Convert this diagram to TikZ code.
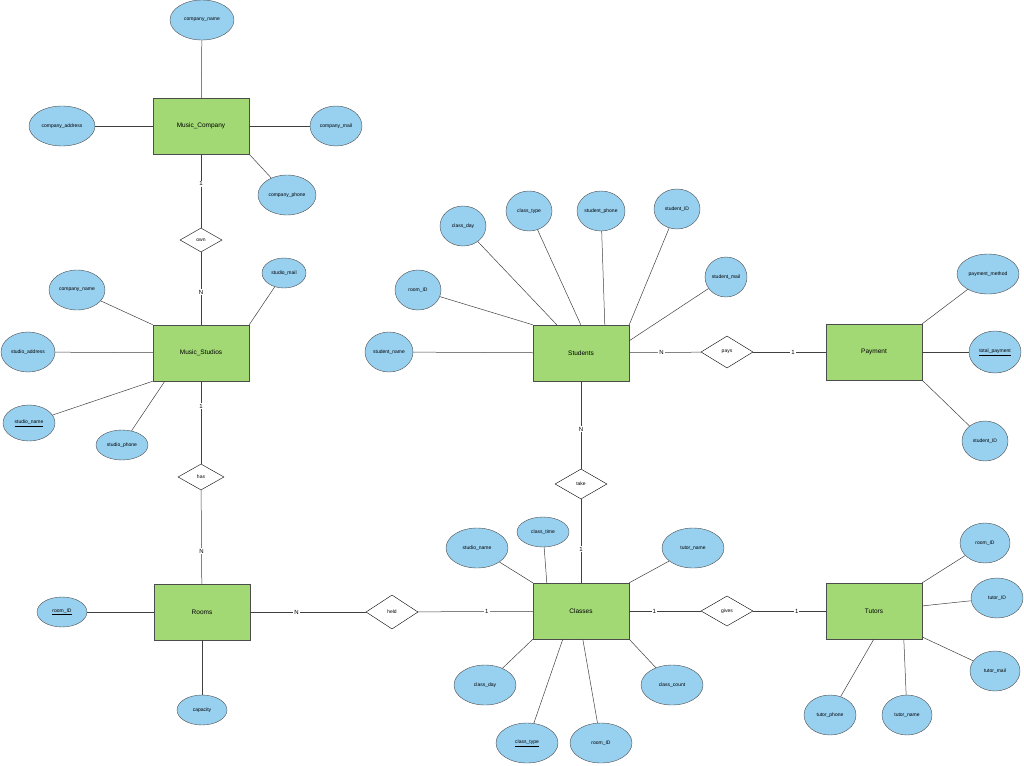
\documentclass[tikz,border=0pt]{standalone}
\usepackage{fontspec}
\setmainfont{Liberation Sans}
\usetikzlibrary{shapes.geometric}
\begin{document}
\begin{tikzpicture}[x=1pt,y=-1pt,
 ent/.style={draw=black!70,fill={rgb,255:red,162;green,217;blue,117},minimum width=96pt,minimum height=56pt,inner sep=0pt,font=\fontsize{6.5}{7}\selectfont},
 att/.style={ellipse,draw=black!70,fill={rgb,255:red,152;green,208;blue,240},inner sep=0pt,font=\fontsize{5}{6}\selectfont},
 rel/.style={diamond,draw=black,fill=white,aspect=1.7,inner sep=0pt,font=\fontsize{5}{6}\selectfont},
 card/.style={fill=white,inner sep=1pt,font=\fontsize{6}{7}\selectfont},
 ln/.style={draw=black!75,line width=0.5pt}]
\useasboundingbox (0,0) rectangle (1024,765);
% entities
\node[ent] (mc) at (201,126) {Music\_Company};
\node[ent] (ms) at (201,353) {Music\_Studios};
\node[ent] (st) at (581,353) {Students};
\node[ent] (pa) at (874,352) {Payment};
\node[ent] (ro) at (202,612) {Rooms};
\node[ent] (cl) at (581,611) {Classes};
\node[ent] (tu) at (874,611) {Tutors};
% relations
\node[rel,minimum width=42pt,minimum height=24pt] (own) at (201,240) {own};
\node[rel,minimum width=46pt,minimum height=26pt] (has) at (201,477) {has};
\node[rel,minimum width=52pt,minimum height=32pt] (pays) at (727,352) {pays};
\node[rel,minimum width=52pt,minimum height=30pt] (take) at (581,484) {take};
\node[rel,minimum width=52pt,minimum height=34pt] (held) at (392,612) {held};
\node[rel,minimum width=52pt,minimum height=30pt] (gives) at (727,611) {gives};
% attributes
\node[att,minimum width=64pt,minimum height=40pt] (a1) at (202,20) {company\_name};
\node[att,minimum width=66pt,minimum height=40pt] (a2) at (62,126) {company\_address};
\node[att,minimum width=52pt,minimum height=40pt] (a3) at (336,126) {company\_mail};
\node[att,minimum width=58pt,minimum height=40pt] (a4) at (287,195) {company\_phone};
\node[att,minimum width=56pt,minimum height=40pt] (b1) at (77,290) {company\_name};
\node[att,minimum width=44pt,minimum height=30pt] (b2) at (284,273) {studio\_mail};
\node[att,minimum width=54pt,minimum height=40pt] (b3) at (28,352) {studio\_address};
\node[att,minimum width=52pt,minimum height=36pt] (b4) at (29,423) {\underline{studio\_name}};
\node[att,minimum width=52pt,minimum height=30pt] (b5) at (122,445) {studio\_phone};
\node[att,minimum width=48pt,minimum height=40pt] (c1) at (389,352) {student\_name};
\node[att,minimum width=46pt,minimum height=40pt] (c2) at (418,290) {room\_ID};
\node[att,minimum width=46pt,minimum height=40pt] (c3) at (463,226) {class\_day};
\node[att,minimum width=46pt,minimum height=40pt] (c4) at (529,211) {class\_type};
\node[att,minimum width=48pt,minimum height=40pt] (c5) at (601,211) {student\_phone};
\node[att,minimum width=46pt,minimum height=40pt] (c6) at (677,209) {student\_ID};
\node[att,minimum width=42pt,minimum height=40pt] (c7) at (726,277) {student\_mail};
\node[att,minimum width=62pt,minimum height=40pt] (d1) at (988,274) {payment\_method};
\node[att,minimum width=52pt,minimum height=42pt] (d2) at (995,352) {\underline{total\_payment}};
\node[att,minimum width=46pt,minimum height=40pt] (d3) at (985,441) {student\_ID};
\node[att,minimum width=50pt,minimum height=30pt] (e1) at (62,612) {\underline{room\_ID}};
\node[att,minimum width=50pt,minimum height=30pt] (e2) at (202,710) {capacity};
\node[att,minimum width=62pt,minimum height=40pt] (f1) at (477,548) {studio\_name};
\node[att,minimum width=52pt,minimum height=30pt] (f2) at (543,532) {class\_time};
\node[att,minimum width=62pt,minimum height=40pt] (f3) at (693,548) {tutor\_name};
\node[att,minimum width=62pt,minimum height=40pt] (f4) at (485,685) {class\_day};
\node[att,minimum width=62pt,minimum height=40pt] (f5) at (672,685) {class\_count};
\node[att,minimum width=62pt,minimum height=40pt] (f6) at (527,743) {\underline{class\_type}};
\node[att,minimum width=62pt,minimum height=40pt] (f7) at (601,743) {room\_ID};
\node[att,minimum width=50pt,minimum height=40pt] (g1) at (985,543) {room\_ID};
\node[att,minimum width=52pt,minimum height=40pt] (g2) at (997,598) {tutor\_ID};
\node[att,minimum width=50pt,minimum height=40pt] (g3) at (995,671) {tutor\_mail};
\node[att,minimum width=52pt,minimum height=40pt] (g4) at (830,715) {tutor\_phone};
\node[att,minimum width=50pt,minimum height=40pt] (g5) at (907,715) {tutor\_name};
% attribute lines
\begin{scope}[on background layer/.style={}]
\draw[ln] (mc) -- (a1); \draw[ln] (mc) -- (a2); \draw[ln] (mc) -- (a3); \draw[ln] (mc.south east) -- (a4);
\draw[ln] (ms.north west) -- (b1); \draw[ln] (ms.north east) -- (b2); \draw[ln] (ms) -- (b3);
\draw[ln] (ms.south west) -- (b4); \draw[ln] ([xshift=12pt]ms.south west) -- (b5);
\draw[ln] (st) -- (c1); \draw[ln] (st.north west) -- (c2); \draw[ln] ([xshift=24pt]st.north west) -- (c3);
\draw[ln] ([xshift=48pt]st.north west) -- (c4); \draw[ln] ([xshift=72pt]st.north west) -- (c5);
\draw[ln] (st.north east) -- (c6); \draw[ln] ([yshift=-16pt]st.north east) -- (c7);
\draw[ln] (pa.north east) -- (d1); \draw[ln] (pa) -- (d2); \draw[ln] (pa.south east) -- (d3);
\draw[ln] (ro) -- (e1); \draw[ln] (ro) -- (e2);
\draw[ln] (cl.north west) -- (f1); \draw[ln] ([xshift=14pt]cl.north west) -- (f2); \draw[ln] (cl.north east) -- (f3);
\draw[ln] (cl.south west) -- (f4); \draw[ln] (cl.south east) -- (f5);
\draw[ln] ([xshift=30pt]cl.south west) -- (f6); \draw[ln] ([xshift=50pt]cl.south west) -- (f7);
\draw[ln] (tu.north east) -- (g1); \draw[ln] (tu) -- (g2); \draw[ln] ([yshift=-26pt]tu.east) -- (g3);
\draw[ln] ([xshift=48pt]tu.south west) -- (g4); \draw[ln] ([xshift=78pt]tu.south west) -- (g5);
\end{scope}
% relationship lines
\draw[ln] (mc) -- node[card,pos=0.4]{1} (own);
\draw[ln] (own) -- node[card,pos=0.55]{N} (ms);
\draw[ln] (ms) -- node[card,pos=0.3]{1} (has);
\draw[ln] (has) -- node[card,pos=0.65]{N} (ro);
\draw[ln] (ro) -- node[card,pos=0.4]{N} (held);
\draw[ln] (held) -- node[card,pos=0.6]{1} (cl);
\draw[ln] (cl) -- node[card,pos=0.35]{1} (gives);
\draw[ln] (gives) -- node[card,pos=0.6]{1} (tu);
\draw[ln] (st) -- node[card,pos=0.45]{N} (pays);
\draw[ln] (pays) -- node[card,pos=0.55]{1} (pa);
\draw[ln] (st) -- node[card,pos=0.55]{N} (take);
\draw[ln] (take) -- node[card,pos=0.6]{1} (cl);
\end{tikzpicture}
\end{document}
